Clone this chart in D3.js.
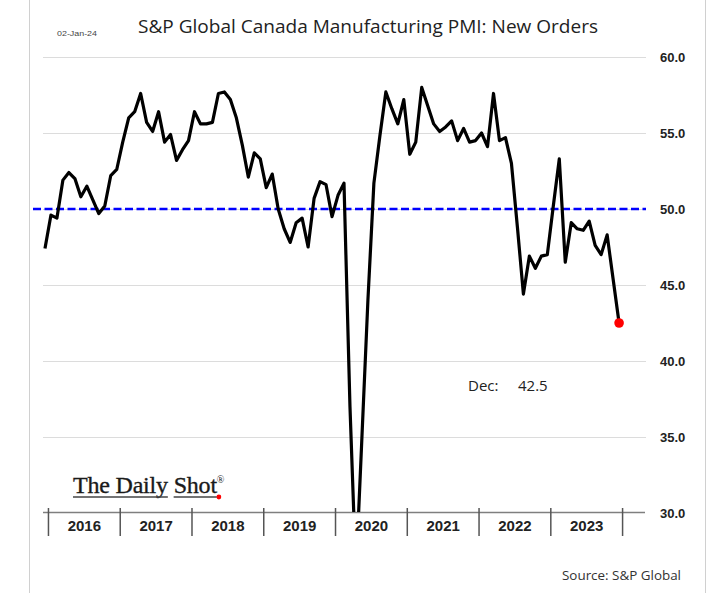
<!DOCTYPE html>
<html><head><meta charset="utf-8">
<script src="https://cdn.jsdelivr.net/npm/d3@7"></script>
<style>body{margin:0;background:#fff;} svg{display:block;}</style>
</head><body>
<svg id="chart" width="722" height="593"></svg>
<script>
// Monthly series, Dec 2015 .. Dec 2023
const startMonth = "2015-12";
const values = [
  47.4,
  49.6,49.4,51.9,52.4,52.0,50.8,51.5,50.6,49.7,50.2,52.2,52.6,
  54.4,56.0,56.4,57.6,55.7,55.1,56.4,54.4,54.9,53.2,53.9,54.5,
  56.4,55.6,55.6,55.7,57.6,57.7,57.2,56.0,54.2,52.1,53.7,53.3,
  51.4,52.3,50.0,48.7,47.8,49.1,49.4,47.5,50.7,51.8,51.6,49.5,
  50.9,51.7,37.0,26.0,35.0,44.0,51.7,54.8,57.7,56.6,55.6,57.2,
  53.6,54.4,58.0,56.8,55.6,55.1,55.4,55.8,54.5,55.3,54.4,54.5,
  55.0,54.1,57.6,54.5,54.7,53.0,48.8,44.4,46.9,46.1,46.9,47.0,
  50.2,53.3,46.5,49.1,48.7,48.6,49.2,47.6,47.0,48.3,45.4,42.5
];
const yearLabels = ["2016","2017","2018","2019","2020","2021","2022","2023"];
const yTicks = [30,35,40,45,50,55,60];
const threshold = 50;
const title = "S&P Global Canada Manufacturing PMI: New Orders";
const dateStamp = "02-Jan-24";
const lastLabel = "Dec:";
const source = "Source: S&P Global";

const svg = d3.select("#chart");
const W = 722, H = 593;

// frame
svg.append("rect").attr("x",0).attr("y",0).attr("width",W).attr("height",H).attr("fill","#fff");
svg.append("line").attr("x1",29.5).attr("x2",29.5).attr("y1",0).attr("y2",H).attr("stroke","#d0d0d0");
svg.append("line").attr("x1",705.5).attr("x2",705.5).attr("y1",0).attr("y2",H).attr("stroke","#d0d0d0");

const x = d3.scaleLinear().domain([-0.33, 100.5]).range([43, 646]);
const y = d3.scaleLinear().domain([30, 60]).range([513, 57]);

// gridlines
svg.append("g").selectAll("line").data(yTicks.filter(d => d > 30)).join("line")
  .attr("x1", 43).attr("x2", 646)
  .attr("y1", d => Math.round(y(d)) + 0.5).attr("y2", d => Math.round(y(d)) + 0.5)
  .attr("stroke", "#dcdcdc").attr("stroke-width", 1);

// y axis labels (right)
const yAxis = d3.axisRight(y).tickValues(yTicks).tickFormat(d3.format(".1f")).tickSize(0).tickPadding(14);
const gy = svg.append("g").attr("transform", "translate(646,0)").call(yAxis);
gy.select(".domain").remove();
gy.selectAll("text").attr("font-family", "Liberation Sans, Arial, sans-serif")
  .attr("font-size", 13).attr("font-weight", "bold").attr("fill", "#222");

// threshold line
svg.append("line")
  .attr("x1", 33).attr("x2", 646)
  .attr("y1", y(threshold)).attr("y2", y(threshold))
  .attr("stroke", "#0000ff").attr("stroke-width", 2.5).attr("stroke-dasharray", "8,3.5");

// x axis line
svg.append("line").attr("x1", 43).attr("x2", 645).attr("y1", 512.5).attr("y2", 512.5)
  .attr("stroke", "#7f7f7f").attr("stroke-width", 1.5);

// year boundary ticks
const boundaries = d3.range(yearLabels.length + 1).map(k => 12 * k + 0.5);
const xTickAxis = d3.axisBottom(x).tickValues(boundaries).tickFormat("").tickSize(28);
const gxt = svg.append("g").attr("transform", "translate(0,508)").call(xTickAxis);
gxt.select(".domain").remove();
gxt.selectAll("line").attr("stroke", "#555").attr("stroke-width", 1.5);

// year labels
const mids = yearLabels.map((d, k) => 12 * k + 6.5);
const xLabAxis = d3.axisBottom(x).tickValues(mids).tickFormat((d, k) => yearLabels[k]).tickSize(0).tickPadding(0);
const gxl = svg.append("g").attr("transform", "translate(0,513)").call(xLabAxis);
gxl.select(".domain").remove();
gxl.selectAll("text").attr("font-family", "Liberation Sans, Arial, sans-serif")
  .attr("font-size", 15).attr("font-weight", "bold").attr("fill", "#222")
  .attr("dy", null).attr("y", 17.5);

// clip
svg.append("clipPath").attr("id", "clip").append("rect")
  .attr("x", 30).attr("y", 40).attr("width", 640).attr("height", 472);

// line
const line = d3.line().x((d, i) => x(i)).y(d => y(d));
svg.append("path").datum(values)
  .attr("clip-path", "url(#clip)")
  .attr("d", line).attr("fill", "none")
  .attr("stroke", "#000").attr("stroke-width", 3.2).attr("stroke-linejoin", "round");

// last point
const li = values.length - 1;
svg.append("circle").attr("cx", x(li)).attr("cy", y(values[li])).attr("r", 4.8).attr("fill", "#ff0000");

// last value annotation
const ann = svg.append("text").attr("x", 468).attr("y", 391)
  .attr("font-family", "Open Sans, Liberation Sans, sans-serif").attr("font-size", 15).attr("fill", "#222");
ann.append("tspan").text(lastLabel);
ann.append("tspan").attr("x", 518).text(d3.format(".1f")(values[li]));

// title
svg.append("text").attr("x", 368).attr("y", 33).attr("text-anchor", "middle")
  .attr("font-family", "Open Sans, Liberation Sans, sans-serif").attr("font-size", 19).attr("fill", "#222")
  .attr("textLength", 460).attr("lengthAdjust", "spacingAndGlyphs")
  .text(title);
svg.append("text").attr("x", 57).attr("y", 36)
  .attr("font-family", "Liberation Sans, Arial, sans-serif").attr("font-size", 8).attr("fill", "#444")
  .attr("textLength", 40).attr("lengthAdjust", "spacingAndGlyphs")
  .text(dateStamp);

// source
svg.append("text").attr("x", 562).attr("y", 580)
  .attr("font-family", "Open Sans, Liberation Sans, sans-serif").attr("font-size", 13).attr("fill", "#333")
  .attr("textLength", 119).attr("lengthAdjust", "spacingAndGlyphs")
  .text(source);

// logo
const logo = svg.append("text").attr("x", 73).attr("y", 492.5)
  .attr("font-family", "Liberation Serif, Times New Roman, serif").attr("font-size", 24).attr("fill", "#1a1a1a")
  .attr("stroke", "#1a1a1a").attr("stroke-width", 0.35)
  .attr("letter-spacing", -0.2);
logo.append("tspan").text("The Daily Shot");
logo.append("tspan").attr("font-size", 10).attr("dy", -10).attr("stroke-width", 0).text("®");
const node = logo.node();
const w1 = node.getSubStringLength(0, 9);
const s2 = node.getSubStringLength(0, 10);
const w2 = node.getSubStringLength(10, 4);
svg.append("line").attr("x1", 73).attr("x2", 73 + w1).attr("y1", 497).attr("y2", 497)
  .attr("stroke", "#444").attr("stroke-width", 1.5);
svg.append("line").attr("x1", 73 + s2).attr("x2", 73 + s2 + w2).attr("y1", 497).attr("y2", 497)
  .attr("stroke", "#444").attr("stroke-width", 1.5);
svg.append("circle").attr("cx", 73 + s2 + w2 + 2).attr("cy", 497).attr("r", 2.4).attr("fill", "#ff0000");
</script>
</body></html>
